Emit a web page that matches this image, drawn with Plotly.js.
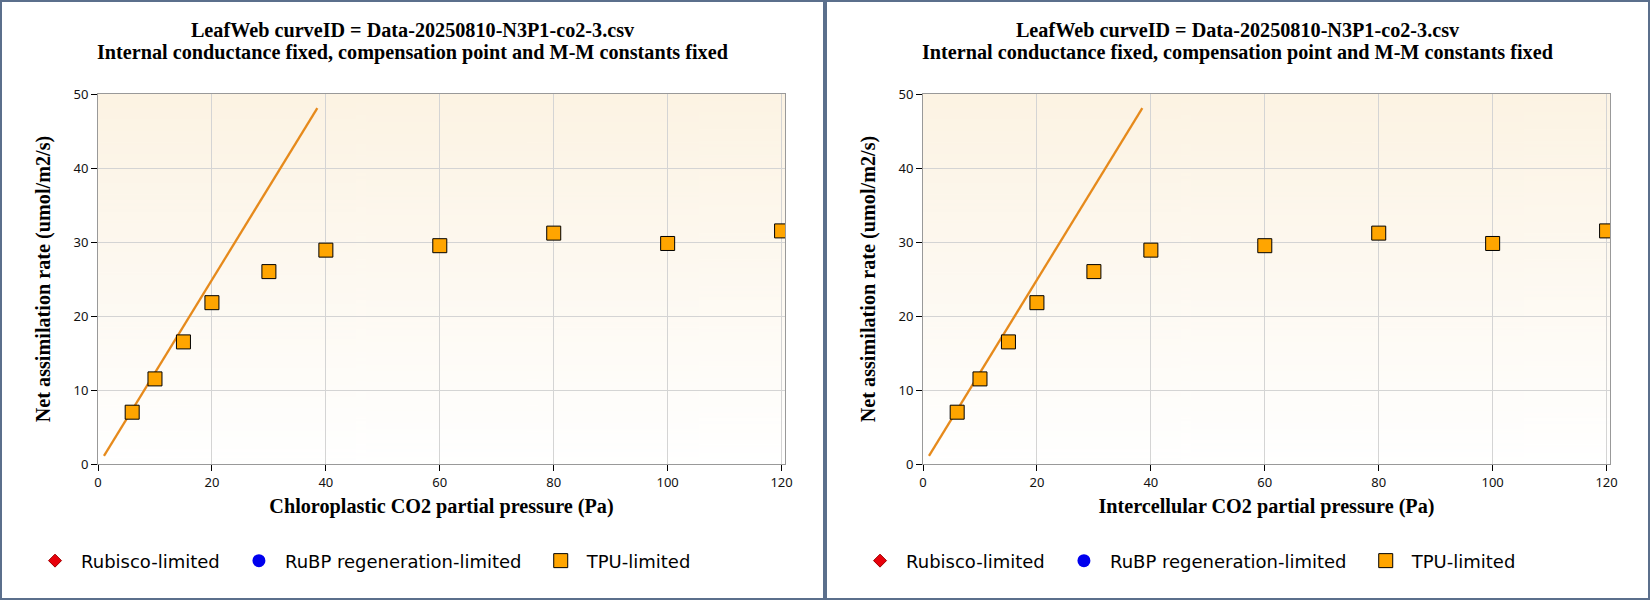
<!DOCTYPE html>
<html>
<head>
<meta charset="utf-8">
<script src="https://cdn.plot.ly/plotly-3.0.1.min.js"></script>
<style>
  html, body { margin:0; padding:0; background:#fff; }
  #wrap { width:1650px; height:600px; display:flex; }
  .panel { width:825px; height:600px; box-sizing:border-box; border:2px solid #5b6f8c; background:#fff; }
  .plot { width:821px; height:596px; }
</style>
</head>
<body>
<div id="wrap">
  <div class="panel"><div id="plotLeft" class="plot"></div></div>
  <div class="panel"><div id="plotRight" class="plot"></div></div>
</div>
<script>
// measured points (CO2 partial pressure, Pa / net assimilation, umol/m2/s)
const ciValues = [6, 10, 15, 20, 30, 40, 60, 80, 100, 120];
const aValues  = [7.0, 11.5, 16.5, 21.8, 26.0, 28.9, 29.5, 31.2, 29.8, 31.5];

// fitted limitation line
const lineCi = [1.05, 38.5];
const lineA  = [1.1, 48.1];

const seriesNames = ['Rubisco-limited', 'RuBP regeneration-limited', 'TPU-limited'];
const titleLines  = ['LeafWeb curveID = Data-20250810-N3P1-co2-3.csv',
                     'Internal conductance fixed, compensation point and M-M constants fixed'];
const xTitles = ['Chloroplastic CO2 partial pressure (Pa)', 'Intercellular CO2 partial pressure (Pa)'];
const yTitle  = 'Net assimilation rate (umol/m2/s)';
const xTicks  = [0, 20, 40, 60, 80, 100, 120];
const yTicks  = [0, 10, 20, 30, 40, 50];

// legend entry left edges (paper units), one legend box per entry
const legendX = [-0.1004, 0.1964, 0.6357];

function gradientImage(){
  const c = document.createElement('canvas');
  c.width = 4; c.height = 256;
  const g = c.getContext('2d');
  const grd = g.createLinearGradient(0, 0, 0, 256);
  grd.addColorStop(0, '#fcf3e3');
  grd.addColorStop(1, '#ffffff');
  g.fillStyle = grd;
  g.fillRect(0, 0, 4, 256);
  return c.toDataURL('image/png');
}
const bgImg = gradientImage();

function legendBox(i){
  return {
    orientation:'h', x: legendX[i], xanchor:'left', y:-0.262, yanchor:'middle',
    font:{ family:'DejaVu Sans, sans-serif', size:18, color:'#000' },
    itemwidth:42, bgcolor:'rgba(0,0,0,0)', borderwidth:0
  };
}

function drawPanel(elId, xTitle){
  const data = [
    { x:[null], y:[null], type:'scatter', mode:'markers', name: seriesNames[0], legend:'legend',
      marker:{ symbol:'diamond', size:10, color:'#e8000b', line:{ color:'#a00000', width:1 } } },
    { x:[null], y:[null], type:'scatter', mode:'markers', name: seriesNames[1], legend:'legend2',
      marker:{ symbol:'circle', size:13, color:'#0000ee', line:{ width:0 } } },
    { x: lineCi, y: lineA, type:'scatter', mode:'lines', showlegend:false, hoverinfo:'skip',
      line:{ color:'#e68a1c', width:2.3 } },
    { x: ciValues, y: aValues, type:'scatter', mode:'markers', name: seriesNames[2], legend:'legend3',
      marker:{ symbol:'square', size:14, color:'#ffa500', line:{ color:'#000', width:1 } } }
  ];

  const tickFont = { family:'Noto Sans, sans-serif', size:13, color:'#111' };
  const titleFont = { family:'Liberation Serif, Times New Roman, serif', size:20.2, color:'#000', weight:'bold' };

  const layout = {
    width:821, height:596,
    margin:{ l:96, r:38, t:92, b:134 },
    paper_bgcolor:'#fff',
    plot_bgcolor:'rgba(0,0,0,0)',
    showlegend:true,
    title:{ text: titleLines[0], font: titleFont, x:0.5, xanchor:'center',
            y:0.953, yref:'container', yanchor:'middle' },
    // second title line, centred on the whole panel like the first
    annotations:[{ text: titleLines[1], font: titleFont, showarrow:false,
                   xref:'paper', yref:'paper', x:0.4575, xanchor:'center', y:1.111, yanchor:'middle' }],
    images:[{ source: bgImg, xref:'paper', yref:'paper', x:0, y:1, sizex:1, sizey:1,
              sizing:'stretch', layer:'below', xanchor:'left', yanchor:'top' }],
    xaxis:{
      range:[0, 120.6], tickvals: xTicks, ticks:'outside', ticklen:6, tickcolor:'#000',
      showline:true, linecolor:'#999', mirror:true, zeroline:false,
      showgrid:true, gridcolor:'#d4d4d4', tickfont: tickFont,
      title:{ text: xTitle, font: titleFont, standoff:9 }
    },
    yaxis:{
      range:[0, 50], tickvals: yTicks, ticks:'outside', ticklen:6, tickcolor:'#000',
      showline:true, linecolor:'#999', mirror:true, zeroline:false,
      showgrid:true, gridcolor:'#d4d4d4', tickfont: tickFont,
      title:{ text: yTitle, font: titleFont, standoff:17 }
    },
    legend: legendBox(0),
    legend2: legendBox(1),
    legend3: legendBox(2),
    hovermode:false
  };

  Plotly.newPlot(elId, data, layout, { displayModeBar:false, staticPlot:true });
}

drawPanel('plotLeft', xTitles[0]);
drawPanel('plotRight', xTitles[1]);
</script>
</body>
</html>
